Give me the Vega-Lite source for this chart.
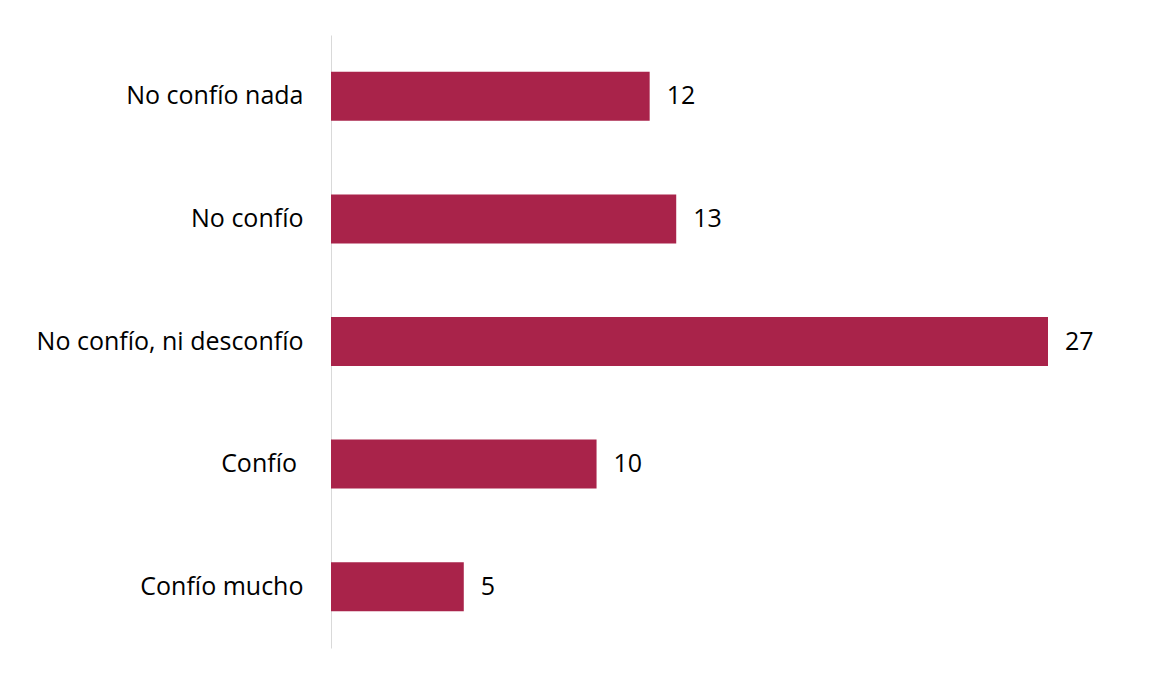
{
  "$schema": "https://vega.github.io/schema/vega-lite/v6.json",
  "autosize": "none",
  "width": 717,
  "height": 613,
  "padding": {"left": 331, "top": 35, "right": 102, "bottom": 25},
  "background": "white",
  "config": {"view": {"stroke": null}, "font": "Open Sans"},
  "data": {"values": [
    {"cat": "No confío nada", "val": 12},
    {"cat": "No confío", "val": 13},
    {"cat": "No confío, ni desconfío", "val": 27},
    {"cat": "Confío\u00a0\u200b", "val": 10},
    {"cat": "Confío mucho", "val": 5}
  ]},
  "encoding": {
    "y": {"field": "cat", "type": "nominal", "sort": null,
      "scale": {"paddingInner": 0.6, "paddingOuter": 0.3},
      "axis": {"title": null, "ticks": false, "domainColor": "#d9d9d9", "domainWidth": 1,
        "labelFontSize": 25, "labelColor": "#000000", "labelPadding": 28, "labelFont": "Open Sans", "labelLimit": 400}},
    "x": {"field": "val", "type": "quantitative", "scale": {"domain": [0, 27], "nice": false}, "axis": null}
  },
  "layer": [
    {"mark": {"type": "bar", "color": "#A9234A"}},
    {"mark": {"type": "text", "align": "left", "baseline": "middle", "dx": 17, "fontSize": 25, "color": "#000000", "font": "Open Sans"},
     "encoding": {"text": {"field": "val", "type": "quantitative"}}}
  ]
}
